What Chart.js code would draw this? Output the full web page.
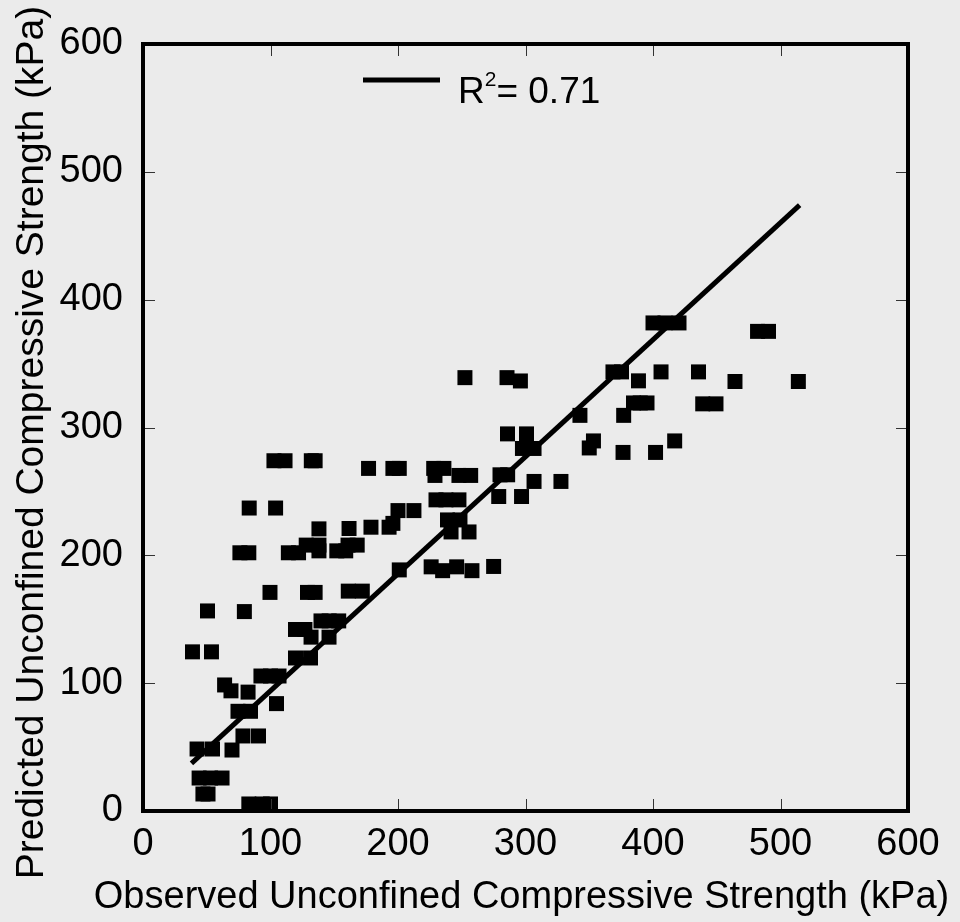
<!DOCTYPE html>
<html>
<head>
<meta charset="utf-8">
<script src="https://cdn.jsdelivr.net/npm/chart.js@4.4.1/dist/chart.umd.min.js"></script>
<style>
  html, body { margin: 0; padding: 0; background: #ebebeb; }
  #wrap { width: 960px; height: 922px; }
</style>
</head>
<body>
<div id="wrap"><canvas id="graph"></canvas></div>
<script>
//////////////////////////////////////////////////////////
/* DATA */
const observed = [
  44, 53, 62, 47, 51, 83, 93.5, 100, 42.4, 54.5, 69.8, 78.4, 90.6, 74.5, 84.3,
  104.7, 82.4, 64, 69, 92.5, 100, 106.7, 119.6, 131.4, 38.8, 53.7, 119.6, 127,
  139.6, 146, 153.5, 131.8, 145.9, 50.6, 79.5, 99.6, 129, 135, 161, 172,
  76, 83, 114, 122, 128, 138, 138, 152, 159, 160.8, 168,
  138, 161.6, 178.8, 193, 196, 83.3, 104, 200, 212.5,
  102.7, 111.4, 132, 135, 176.9, 196, 201,
  228, 236, 229, 247.8, 257, 280, 286, 306.7, 327.8,
  229.8, 237.6, 247.8, 279, 296.9, 238.8, 248.6, 241.6, 255.7,
  201, 226, 235, 246, 258, 275,
  252.5, 285.5, 296, 285.9, 300.8, 297.6, 306.7,
  342.7, 377, 353.3, 350, 376.5, 402, 417, 384.7, 390, 395.3, 439, 449.4,
  368.6, 375.3, 406.3, 435.7, 388.6, 464.3, 514,
  400, 409.4, 420.4, 482, 490.6
];
const predicted = [
  25.8, 25.8, 25.8, 13.3, 13.3, 5.5, 5.5, 5.5, 48.5, 48.5, 47.7, 58.7, 58.7, 78, 78,
  84, 93, 98.6, 94, 105.6, 105.6, 105.6, 119.7, 119.7, 124.5, 124.5, 142, 142,
  148.7, 148.7, 148.7, 136, 136, 156.5, 156, 171, 171, 171, 172, 172,
  202, 202, 202, 202, 208, 208, 203.5, 203.5, 203.5, 208, 208,
  220.7, 221, 222, 222, 225, 237, 237, 235, 235,
  274, 274, 274, 274, 268, 268, 268,
  268, 268, 262.5, 262.5, 262.5, 263, 263, 257.8, 257.8,
  243.4, 243.4, 243.4, 246, 246, 227.7, 227.7, 218.3, 218.3,
  188.6, 191, 188, 191, 188, 191.3,
  339, 339, 336.4, 295, 295, 283.6, 283.6,
  309.5, 309.5, 289.5, 284, 280.5, 280.5, 289.5, 319.2, 319.2, 319.2, 318.5, 318.5,
  343.5, 343.5, 343.5, 343.5, 336.5, 336, 336,
  381.8, 381.8, 381.8, 375.2, 375.2
];
// fitted line end points
const fitX = [38, 515];
const fitY = [37.3, 474];

const axisTicks = [0, 100, 200, 300, 400, 500, 600];
const legendText = ['R', '2', '= 0.71'];
const xTitle = 'Observed Unconfined Compressive Strength (kPa)';
const yTitle = 'Predicted Unconfined Compressive Strength (kPa)';

//////////////////////////////////////////////////////////
/* PLUGINS: background, frame, inner ticks, legend, axis titles */
const FONT = '"Liberation Sans", Arial, sans-serif';

const framePlugin = {
  id: 'frame',
  beforeDraw(chart) {
    const ctx = chart.ctx;
    ctx.save();
    ctx.fillStyle = '#ebebeb';
    ctx.fillRect(0, 0, chart.width, chart.height);
    ctx.restore();
  },
  afterDraw(chart) {
    const ctx = chart.ctx;
    const a = chart.chartArea;
    const xs = chart.scales.x, ys = chart.scales.y;
    ctx.save();
    // inner tick marks on all four sides
    ctx.strokeStyle = '#333';
    ctx.lineWidth = 1;
    const len = 12;
    ctx.beginPath();
    axisTicks.forEach(v => {
      const px = Math.round(xs.getPixelForValue(v)) + 0.5;
      ctx.moveTo(px, a.bottom); ctx.lineTo(px, a.bottom - len);
      ctx.moveTo(px, a.top); ctx.lineTo(px, a.top + len);
      const py = Math.round(ys.getPixelForValue(v)) + 0.5;
      ctx.moveTo(a.left, py); ctx.lineTo(a.left + len, py);
      ctx.moveTo(a.right, py); ctx.lineTo(a.right - len, py);
    });
    ctx.stroke();
    // frame
    ctx.strokeStyle = '#000';
    ctx.lineWidth = 4;
    ctx.strokeRect(a.left, a.top, a.right - a.left, a.bottom - a.top);

    // legend
    const ly = a.top + 36;
    ctx.lineWidth = 5;
    ctx.beginPath();
    ctx.moveTo(a.left + 220, ly);
    ctx.lineTo(a.left + 297, ly);
    ctx.stroke();
    ctx.fillStyle = '#000';
    ctx.textBaseline = 'alphabetic';
    let tx = a.left + 315;
    const base = a.top + 59;
    ctx.font = '37px ' + FONT;
    ctx.fillText(legendText[0], tx, base);
    tx += ctx.measureText(legendText[0]).width;
    ctx.font = '21px ' + FONT;
    ctx.fillText(legendText[1], tx, base - 17);
    tx += ctx.measureText(legendText[1]).width;
    ctx.font = '37px ' + FONT;
    ctx.fillText(legendText[2], tx, base);

    // x axis title
    ctx.font = '38px ' + FONT;
    ctx.textAlign = 'center';
    ctx.fillText(xTitle, (a.left + a.right) / 2 - 4, a.bottom + 97);

    // y axis title, a bit below the plot centre as in the source
    ctx.translate(32, (a.top + a.bottom) / 2 + 15);
    ctx.rotate(-Math.PI / 2);
    ctx.font = '39px ' + FONT;
    ctx.textBaseline = 'middle';
    ctx.fillText(yTitle, 0, 0);
    ctx.restore();
  }
};

//////////////////////////////////////////////////////////
/* CHART CONFIG */
const cfg = {
  type: 'scatter',
  data: {
    datasets: [
      {
        label: 'data',
        data: observed.map((v, i) => ({ x: v, y: predicted[i] })),
        pointStyle: 'rect',
        pointRadius: 10.6,
        pointHoverRadius: 10.6,
        backgroundColor: '#000',
        borderWidth: 0,
        clip: false
      },
      {
        type: 'line',
        label: 'fit',
        data: fitX.map((v, i) => ({ x: v, y: fitY[i] })),
        borderColor: '#000',
        borderWidth: 5,
        pointRadius: 0,
        fill: false,
        tension: 0
      }
    ]
  },
  options: {
    responsive: true,
    maintainAspectRatio: false,
    animation: false,
    layout: { padding: { left: 0, top: 44, right: 52, bottom: 0 } },
    plugins: { legend: { display: false }, tooltip: { enabled: false } },
    scales: {
      x: {
        type: 'linear', min: 0, max: 600,
        afterBuildTicks: s => { s.ticks = axisTicks.map(v => ({ value: v })); },
        afterFit: s => { s.height = 111; },
        grid: { display: false, drawTicks: false },
        border: { display: false },
        ticks: { color: '#000', padding: 11, font: { family: FONT, size: 38 } }
      },
      y: {
        type: 'linear', min: 0, max: 600,
        afterBuildTicks: s => { s.ticks = axisTicks.map(v => ({ value: v })); },
        afterFit: s => { s.width = 143; },
        grid: { display: false, drawTicks: false },
        border: { display: false },
        ticks: { color: '#000', padding: 20, font: { family: FONT, size: 38 } }
      }
    }
  },
  plugins: [framePlugin]
};

new Chart(document.getElementById('graph'), cfg);
</script>
</body>
</html>
